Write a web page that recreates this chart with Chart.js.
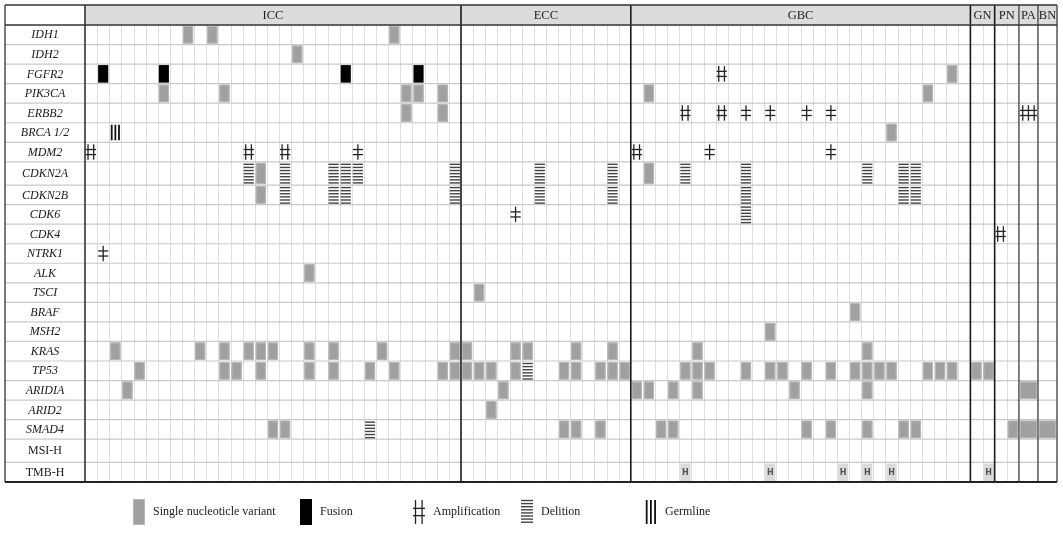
<!DOCTYPE html>
<html><head><meta charset="utf-8">
<script src="https://cdn.jsdelivr.net/npm/chart.js@4.4.0/dist/chart.umd.min.js"></script>
<style>html,body{margin:0;padding:0;background:#fff;}canvas{display:block;}</style>
</head><body>
<canvas id="c" width="1063" height="538"></canvas>
<script>
// ================= DATA =================
const groups = ['ICC','ECC','GBC','GN','PN','PA','BN'];
const groupSamples = [31,14,28,2,2,1,1];
const genes = ['IDH1','IDH2','FGFR2','PIK3CA','ERBB2','BRCA 1/2','MDM2','CDKN2A','CDKN2B','CDK6','CDK4','NTRK1','ALK','TSCI','BRAF','MSH2','KRAS','TP53','ARIDIA','ARID2','SMAD4','MSI-H','TMB-H'];
const plainLabels = ['MSI-H','TMB-H'];
// codes: S single nucleotide variant, F fusion, A amplification, a amplification (single bar), D deletion, G germline, H TMB-high
// entries: [group, sample indices, code]
const IDH1   = [['ICC',[8,10,25],'S']];
const IDH2   = [['ICC',[17],'S']];
const FGFR2  = [['ICC',[1,6,21,27],'F'],['GBC',[7],'A'],['GBC',[26],'S']];
const PIK3CA = [['ICC',[6,11,26,27,29],'S'],['GBC',[1,24],'S']];
const ERBB2  = [['ICC',[26,29],'S'],['GBC',[4,7],'A'],['GBC',[9,11,14,16],'a'],['PA',[0],'A']];
const BRCA12 = [['ICC',[2],'G'],['GBC',[21],'S']];
const MDM2   = [['ICC',[0,13,16],'A'],['ICC',[22],'a'],['GBC',[0],'A'],['GBC',[6,16],'a']];
const CDKN2A = [['ICC',[13,16,20,21,22,30],'D'],['ICC',[14],'S'],['ECC',[6,12],'D'],['GBC',[1],'S'],['GBC',[4,9,19,22,23],'D']];
const CDKN2B = [['ICC',[14],'S'],['ICC',[16,20,21,30],'D'],['ECC',[6,12],'D'],['GBC',[9,22,23],'D']];
const CDK6   = [['ECC',[4],'a'],['GBC',[9],'D']];
const CDK4   = [['PN',[0],'A']];
const NTRK1  = [['ICC',[1],'a']];
const ALK    = [['ICC',[18],'S']];
const TSCI   = [['ECC',[1],'S']];
const BRAF   = [['GBC',[18],'S']];
const MSH2   = [['GBC',[11],'S']];
const KRAS   = [['ICC',[2,9,11,13,14,15,18,20,24,30],'S'],['ECC',[0,4,5,9,12],'S'],['GBC',[5,19],'S']];
const TP53   = [['ICC',[4,11,12,14,18,20,23,25,29,30],'S'],['ECC',[0,1,2,4,8,9,11,12,13],'S'],['ECC',[5],'D'],
                ['GBC',[4,5,6,9,11,12,14,16,18,19,20,21,24,25,26],'S'],['GN',[0,1],'S']];
const ARIDIA = [['ICC',[3],'S'],['ECC',[3],'S'],['GBC',[0,1,3,5,13,19],'S'],['PA',[0],'S']];
const ARID2  = [['ECC',[2],'S']];
const SMAD4  = [['ICC',[15,16],'S'],['ICC',[23],'D'],['ECC',[8,9,11],'S'],['GBC',[2,3,14,16,19,22,23],'S'],['PN',[1],'S'],['PA',[0],'S'],['BN',[0],'S']];
const MSIH   = [];
const TMBH   = [['GBC',[4,11,17,19,21],'H'],['GN',[1],'H']];
const alterations = {IDH1,IDH2,FGFR2,PIK3CA,ERBB2,'BRCA 1/2':BRCA12,MDM2,CDKN2A,CDKN2B,CDK6,CDK4,NTRK1,ALK,TSCI,BRAF,MSH2,KRAS,TP53,ARIDIA,ARID2,SMAD4,'MSI-H':MSIH,'TMB-H':TMBH};
const legendCodes = ['S','F','A','D','G'];
const legendNames = ['Single nucleoticle variant','Fusion','Amplification','Delition','Germline'];
const codeNames = {S:'Single nucleoticle variant',F:'Fusion',A:'Amplification',a:'Amplification',D:'Delition',G:'Germline',H:'TMB-H'};

// ================= LAYOUT / STYLE =================
const LAYOUT = {
  wideCol: 1.57, tallRows: {'CDKN2A':1.19,'MSI-H':1.19},
  labelLeft: 5, tableTop: 5,
  legendY: 512, legendIconX: [133,300,413,521,645], legendTextGap: 20,
  serif: '"Liberation Serif", "DejaVu Serif", serif'
};
const colW = g => (g==='PA'||g==='BN') ? LAYOUT.wideCol : 1;
const groupOffset = {}; let accX = 0;
groups.forEach((g,i)=>{ groupOffset[g]=accX; accX += groupSamples[i]*colW(g); });
const totalX = accX;
const rowStart = {}; let accY = 0;
genes.forEach(g=>{ rowStart[g]=accY; accY += (LAYOUT.tallRows[g]||1); });
const totalY = accY;
const rowH = g => LAYOUT.tallRows[g]||1;

// build datasets (one per alteration code)
const byCode = {};
genes.forEach(gene=>{
  (alterations[gene]||[]).forEach(([grp, idxs, code])=>{
    idxs.forEach(i=>{
      const x0 = groupOffset[grp] + i*colW(grp), x1 = x0 + colW(grp);
      const y0 = rowStart[gene], y1 = y0 + rowH(gene);
      (byCode[code] = byCode[code] || []).push({x:(x0+x1)/2, y:(y0+y1)/2, x0, x1, y0, y1, code});
    });
  });
});
const datasets = Object.keys(byCode).map(code=>({label: codeNames[code], code, data: byCode[code], pointRadius:0, pointHoverRadius:0}));

// ================= DRAWING HELPERS =================
function line(ctx,x0,y0,x1,y1){ctx.beginPath();ctx.moveTo(x0,y0);ctx.lineTo(x1,y1);ctx.stroke();}
function drawMark(ctx, code, x0, y0, x1, y1){
  const w = x1-x0, h = y1-y0;
  ctx.save();
  if(code==='S'){
    ctx.fillStyle='#a0a0a0'; ctx.fillRect(x0+1,y0+1,w-2,h-2);
    ctx.strokeStyle='#b8b8b8'; ctx.lineWidth=1; ctx.strokeRect(x0+1.5,y0+1.5,w-3,h-3);
  } else if(code==='F'){
    ctx.fillStyle='#000'; ctx.fillRect(x0+1,y0+1,w-2,h-2);
  } else if(code==='H'){
    ctx.fillStyle='#dadada'; ctx.fillRect(x0+1,y0+1,w-2,h-2);
    ctx.fillStyle='#555'; ctx.font='bold 8px "DejaVu Sans", sans-serif';
    ctx.textAlign='center'; ctx.textBaseline='middle';
    ctx.fillText('H',(x0+x1)/2,(y0+y1)/2+0.5);
  } else if(code==='A' || code==='a'){
    ctx.strokeStyle='#222'; ctx.lineWidth=1.3;
    let xs;
    if(code==='a') xs=[x0+w*0.5];
    else if(w>15) xs=[x0+w*0.2,x0+w*0.5,x0+w*0.8];
    else xs=[x0+w*0.25,x0+w*0.72];
    xs.forEach(x=>line(ctx,x,y0+2,x,y1-2));
    line(ctx,x0+1,y0+h*0.37,x1-1,y0+h*0.37);
    line(ctx,x0+1,y0+h*0.63,x1-1,y0+h*0.63);
  } else if(code==='D'){
    ctx.strokeStyle='#444'; ctx.lineWidth=1.4;
    for(let y=y0+2.5; y<y1-1.2; y+=3.1) line(ctx,x0+1,y,x1-1,y);
  } else if(code==='G'){
    ctx.strokeStyle='#111'; ctx.lineWidth=1.8;
    [0.12,0.42,0.72].forEach(f=>line(ctx,x0+w*f+1,y0+2,x0+w*f+1,y1-2));
  }
  ctx.restore();
}

const gridPlugin = {
  id:'oncogrid',
  beforeDraw(chart){
    const ctx=chart.ctx; ctx.save(); ctx.fillStyle='#fff'; ctx.fillRect(0,0,chart.width,chart.height); ctx.restore();
  },
  beforeDatasetsDraw(chart){
    const ctx=chart.ctx, xs=chart.scales.x, ys=chart.scales.y, ca=chart.chartArea;
    ctx.save();
    // header band
    ctx.fillStyle='#dcdcdc';
    ctx.fillRect(ca.left, LAYOUT.tableTop, ca.right-ca.left, ca.top-LAYOUT.tableTop);
    // column lines
    ctx.strokeStyle='#dedede'; ctx.lineWidth=1;
    groups.forEach((g,gi)=>{
      for(let i=1;i<groupSamples[gi];i++){
        const x=Math.round(xs.getPixelForValue(groupOffset[g]+i*colW(g)))+0.5;
        line(ctx,x,ca.top,x,ca.bottom);
      }
    });
    // row lines
    ctx.strokeStyle='#c9c9c9'; ctx.lineWidth=1.2;
    genes.forEach((g,i)=>{ if(i===0) return;
      const y=ys.getPixelForValue(rowStart[g]);
      line(ctx,LAYOUT.labelLeft,y,ca.right,y);
    });
    // gene labels
    ctx.fillStyle='#1a1a1a'; ctx.textAlign='center'; ctx.textBaseline='middle';
    genes.forEach(g=>{
      ctx.font=(plainLabels.includes(g)?'':'italic ')+'12px '+LAYOUT.serif;
      const yc=ys.getPixelForValue(rowStart[g]+rowH(g)/2);
      ctx.fillText(g,(LAYOUT.labelLeft+ca.left)/2,yc+0.5);
    });
    ctx.restore();
  },
  afterDatasetsDraw(chart){
    const ctx=chart.ctx, xs=chart.scales.x, ys=chart.scales.y, ca=chart.chartArea;
    chart.data.datasets.forEach(ds=>{
      ds.data.forEach(p=>{
        drawMark(ctx,p.code,xs.getPixelForValue(p.x0),ys.getPixelForValue(p.y0),xs.getPixelForValue(p.x1),ys.getPixelForValue(p.y1));
      });
    });
    ctx.save();
    // group separators and header labels
    ctx.textAlign='center'; ctx.textBaseline='middle';
    groups.forEach((g,gi)=>{
      const xa=xs.getPixelForValue(groupOffset[g]);
      const xb=xs.getPixelForValue(groupOffset[g]+groupSamples[gi]*colW(g));
      ctx.fillStyle='#222'; ctx.font='12.5px '+LAYOUT.serif;
      ctx.fillText(g,(xa+xb)/2,(LAYOUT.tableTop+ca.top)/2+0.5);
      if(gi>0){
        ctx.strokeStyle = gi<=4 ? '#1a1a1a' : '#555';
        ctx.lineWidth = gi<=4 ? 1.6 : 1.5;
        line(ctx,xa,LAYOUT.tableTop,xa,ca.bottom);
      }
    });
    // borders
    ctx.strokeStyle='#555'; ctx.lineWidth=1.5;
    line(ctx,ca.right,LAYOUT.tableTop,ca.right,ca.bottom);
    ctx.strokeStyle='#333'; ctx.lineWidth=1.3;
    line(ctx,LAYOUT.labelLeft,LAYOUT.tableTop,ca.right,LAYOUT.tableTop);
    line(ctx,LAYOUT.labelLeft,LAYOUT.tableTop,LAYOUT.labelLeft,ca.bottom);
    ctx.lineWidth=1.6;
    line(ctx,LAYOUT.labelLeft,ca.top,ca.right,ca.top);
    line(ctx,ca.left,LAYOUT.tableTop,ca.left,ca.bottom);
    ctx.strokeStyle='#222'; ctx.lineWidth=1.8;
    line(ctx,LAYOUT.labelLeft,ca.bottom,ca.right,ca.bottom);
    // legend
    ctx.textAlign='left'; ctx.textBaseline='middle'; ctx.fillStyle='#1a1a1a';
    ctx.font='12px '+LAYOUT.serif;
    legendCodes.forEach((code,i)=>{
      const ix=LAYOUT.legendIconX[i];
      drawMark(ctx,code,ix-1,LAYOUT.legendY-14,ix+13,LAYOUT.legendY+14);
      ctx.fillStyle='#1a1a1a';
      ctx.fillText(legendNames[i],ix+LAYOUT.legendTextGap,LAYOUT.legendY);
    });
    ctx.restore();
  }
};

new Chart(document.getElementById('c'),{
  type:'scatter',
  data:{datasets},
  options:{
    responsive:false, animation:false, events:[],
    layout:{padding:{left:85,right:6,top:25,bottom:56}},
    scales:{
      x:{type:'linear',display:false,min:0,max:totalX},
      y:{type:'linear',display:false,min:0,max:totalY,reverse:true}
    },
    plugins:{legend:{display:false},tooltip:{enabled:false}}
  },
  plugins:[gridPlugin]
});
</script>
</body></html>
